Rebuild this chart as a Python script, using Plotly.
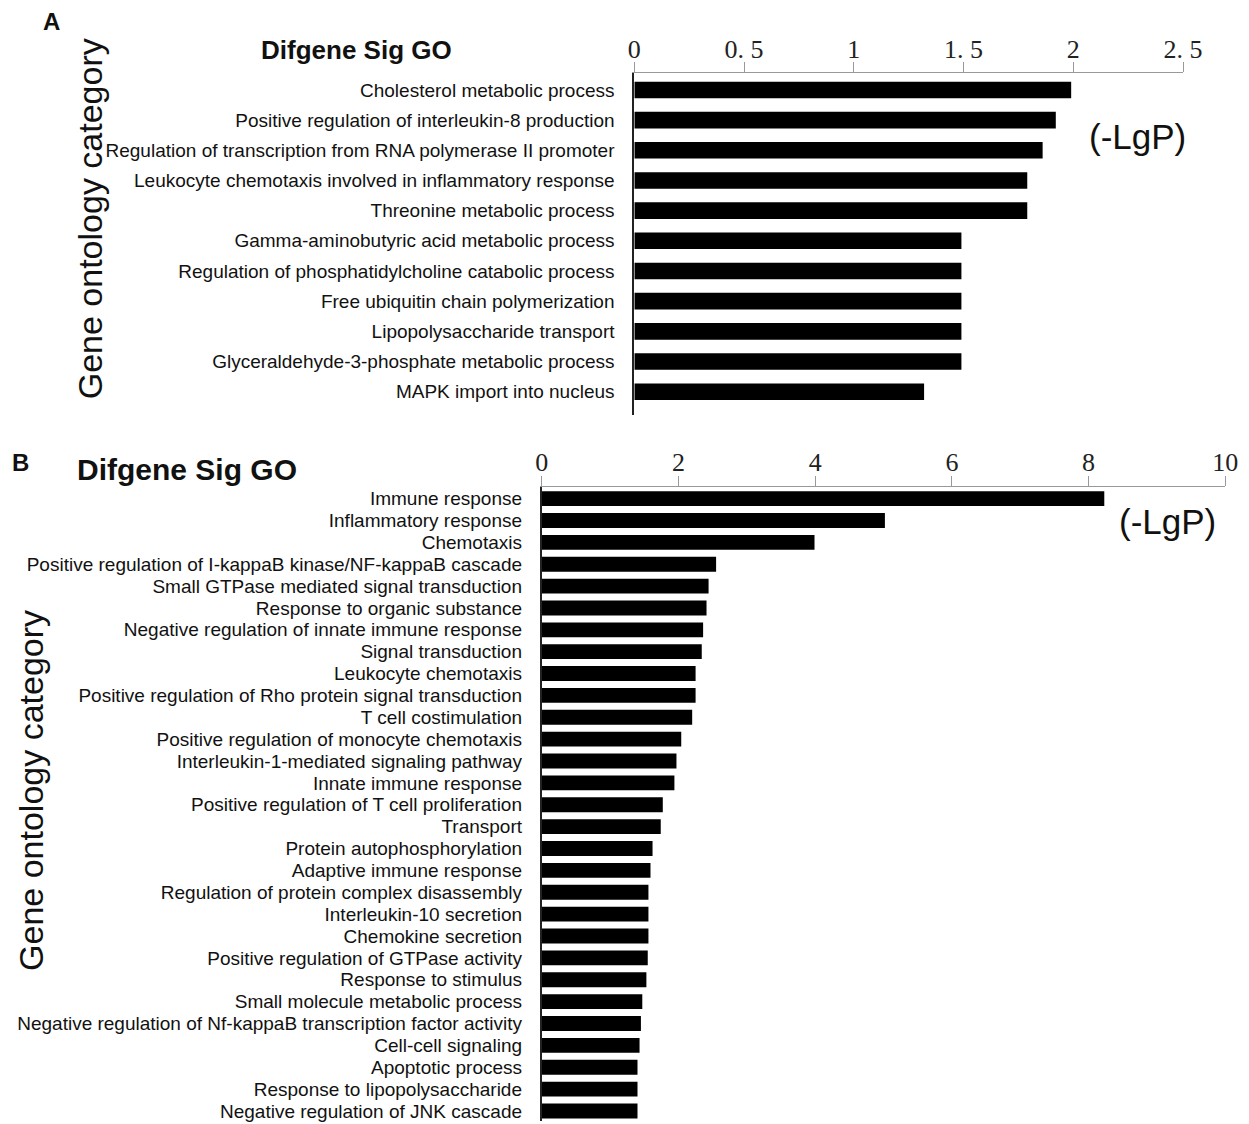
import plotly.graph_objects as go

# Panel A data
cats_a = ["Cholesterol metabolic process",
          "Positive regulation of interleukin-8 production",
          "Regulation of transcription from RNA polymerase II promoter",
          "Leukocyte chemotaxis involved in inflammatory response",
          "Threonine metabolic process",
          "Gamma-aminobutyric acid metabolic process",
          "Regulation of phosphatidylcholine catabolic process",
          "Free ubiquitin chain polymerization",
          "Lipopolysaccharide transport",
          "Glyceraldehyde-3-phosphate metabolic process",
          "MAPK import into nucleus"]
vals_a = [1.99, 1.92, 1.86, 1.79, 1.79, 1.49, 1.49, 1.49, 1.49, 1.49, 1.32]
ticks_a = [0, 0.5, 1, 1.5, 2, 2.5]
ticklabels_a = ["0", "0. 5", "1", "1. 5", "2", "2. 5"]

# Panel B data
cats_b = ["Immune response", "Inflammatory response", "Chemotaxis",
          "Positive regulation of I-kappaB kinase/NF-kappaB cascade",
          "Small GTPase mediated signal transduction",
          "Response to organic substance",
          "Negative regulation of innate immune response",
          "Signal transduction", "Leukocyte chemotaxis",
          "Positive regulation of Rho protein signal transduction",
          "T cell costimulation",
          "Positive regulation of monocyte chemotaxis",
          "Interleukin-1-mediated signaling pathway",
          "Innate immune response",
          "Positive regulation of T cell proliferation",
          "Transport", "Protein autophosphorylation",
          "Adaptive immune response",
          "Regulation of protein complex disassembly",
          "Interleukin-10 secretion", "Chemokine secretion",
          "Positive regulation of GTPase activity",
          "Response to stimulus", "Small molecule metabolic process",
          "Negative regulation of Nf-kappaB transcription factor activity",
          "Cell-cell signaling", "Apoptotic process",
          "Response to lipopolysaccharide",
          "Negative regulation of JNK cascade"]
vals_b = [8.23, 5.02, 3.99, 2.55, 2.44, 2.41, 2.36, 2.34, 2.25, 2.25, 2.20,
          2.04, 1.97, 1.94, 1.77, 1.74, 1.62, 1.59, 1.56, 1.56, 1.56, 1.55,
          1.53, 1.47, 1.45, 1.43, 1.40, 1.40, 1.40]
ticks_b = [0, 2, 4, 6, 8, 10]
ticklabels_b = ["0", "2", "4", "6", "8", "10"]

W, H = 1249, 1124
def px_x(x): return x / W
def px_y(y): return 1 - y / H

fig = go.Figure()
fig.add_trace(go.Bar(x=vals_a, y=cats_a, orientation="h", marker_color="black",
                     marker_line_width=0, width=0.55, xaxis="x", yaxis="y"))
fig.add_trace(go.Bar(x=vals_b, y=cats_b, orientation="h", marker_color="black",
                     marker_line_width=0, width=0.68, xaxis="x2", yaxis="y2"))

sans = "Liberation Sans, Arial, sans-serif"
serif = "Liberation Serif, DejaVu Serif, serif"

xcommon = dict(side="top", showline=True, linecolor="#999", linewidth=1,
               ticks="outside", ticklen=10, tickcolor="#999", showgrid=False,
               zeroline=False, ticklabelstandoff=-6,
               tickfont=dict(family=serif, size=26, color="#222"),
               fixedrange=True)
fig.update_layout(
    width=W, height=H, margin=dict(l=0, r=0, t=0, b=0),
    plot_bgcolor="white", paper_bgcolor="white", showlegend=False,
    xaxis=dict(domain=[px_x(633), px_x(1193)], range=[0, 2.5], anchor="y",
               tickvals=ticks_a, ticktext=ticklabels_a, **xcommon),
    yaxis=dict(domain=[px_y(407), px_y(65)], anchor="x", type="category",
               range=[10.76, -0.563], showline=True, linecolor="#222", linewidth=2,
               ticks="", ticklabelstandoff=14, showgrid=False,
               tickmode="array", tickvals=cats_a, ticktext=cats_a,
               tickfont=dict(family=sans, size=19, color="#111")),
    xaxis2=dict(domain=[px_x(538.6), px_x(1236)], range=[0, 10], anchor="y2",
                tickvals=ticks_b, ticktext=ticklabels_b, **xcommon),
    yaxis2=dict(domain=[px_y(1114), px_y(479)], anchor="x2", type="category",
                range=[28.46, -0.55], showline=True, linecolor="#222", linewidth=2,
                ticks="", ticklabelstandoff=14, showgrid=False,
                tickmode="array", tickvals=cats_b, ticktext=cats_b,
                tickfont=dict(family=sans, size=19, color="#111")),
)

ann = [
    dict(text="<b>A</b>", x=38, y=14, size=24),
    dict(text="<b>B</b>", x=7, y=455, size=24),
    dict(text="<b>Difgene Sig GO</b>", x=350, y=42, size=26),
    dict(text="<b>Difgene Sig GO</b>", x=177, y=462, size=30),
    dict(text="(-LgP)", x=1146, y=129, size=35),
    dict(text="(-LgP)", x=1177, y=514, size=35),
]
for a in ann:
    fig.add_annotation(text=a["text"], x=px_x(a["x"]), y=px_y(a["y"]),
                       xref="paper", yref="paper",
                       showarrow=False, xanchor="center", yanchor="middle",
                       font=dict(family=sans, size=a["size"], color="#111"))
for xc, yc in [(77, 211), (18, 783)]:
    fig.add_annotation(text="Gene ontology category", x=px_x(xc), y=px_y(yc),
                       xref="paper", yref="paper", showarrow=False, textangle=-90,
                       xanchor="center", yanchor="middle",
                       font=dict(family=sans, size=34, color="#111"))

fig.write_html("out.html")
